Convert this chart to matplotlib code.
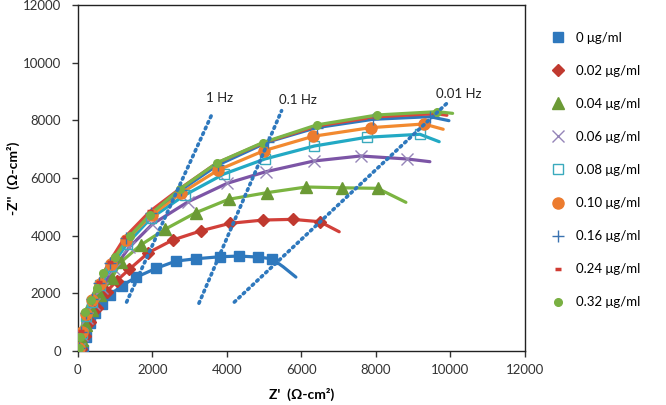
import matplotlib
matplotlib.use('Agg')
import matplotlib.pyplot as plt

plt.rcParams['font.family'] = ['Lato', 'DejaVu Sans']

# concentrations of the inhibitor
labels = ['0 μg/ml', '0.02 μg/ml', '0.04 μg/ml', '0.06 μg/ml', '0.08 μg/ml',
          '0.10 μg/ml', '0.16 μg/ml', '0.24 μg/ml', '0.32 μg/ml']

# measured points, Z' and -Z'' (ohm cm2), one list per concentration
z_real = [
    [126, 215, 322, 456, 636, 859, 1173, 1557, 2094, 2631, 3168, 3813, 4331, 4833, 5209],
    [80, 188, 322, 510, 771, 1039, 1377, 1888, 2543, 3311, 4081, 4975, 5765, 6498],
    [54, 107, 215, 376, 591, 905, 1155, 1684, 2336, 3163, 4046, 5067, 6133, 7102, 8047],
    [40, 120, 250, 420, 640, 960, 1380, 2000, 2961, 4009, 5047, 6337, 7590, 8842],
    [40, 110, 230, 390, 600, 900, 1320, 1950, 2873, 3920, 5021, 6350, 7752, 9183],
    [30, 100, 220, 380, 580, 880, 1300, 1979, 2766, 3767, 4994, 6318, 7859, 9290],
    [30, 95, 210, 370, 570, 860, 1280, 1950, 2760, 3759, 5101, 6408, 7929, 9451],
    [25, 90, 200, 360, 560, 850, 1270, 1940, 2750, 3730, 4980, 6410, 8000, 9600],
    [20, 60, 190, 340, 500, 680, 990, 1400, 1930, 2739, 3740, 4959, 6409, 8036, 9647],
]
z_imag = [
    [35, 496, 960, 1307, 1620, 1942, 2265, 2556, 2868, 3121, 3201, 3271, 3295, 3260, 3201],
    [70, 520, 1006, 1490, 2057, 2438, 2833, 3409, 3849, 4172, 4429, 4543, 4567, 4484],
    [35, 381, 902, 1422, 1942, 2521, 3087, 3676, 4220, 4796, 5261, 5490, 5688, 5660, 5642],
    [60, 560, 1150, 1650, 2200, 2850, 3600, 4400, 5178, 5816, 6218, 6589, 6763, 6659],
    [80, 620, 1230, 1720, 2280, 2950, 3720, 4600, 5410, 6138, 6659, 7109, 7411, 7515],
    [100, 650, 1280, 1760, 2330, 3020, 3850, 4716, 5469, 6277, 6946, 7446, 7744, 7872],
    [110, 680, 1320, 1790, 2370, 3070, 3920, 4800, 5580, 6450, 7248, 7744, 8035, 8125],
    [115, 700, 1340, 1800, 2400, 3100, 3960, 4850, 5640, 6520, 7220, 7800, 8120, 8230],
    [100, 500, 1360, 1770, 2200, 2700, 3270, 3990, 4720, 5618, 6530, 7224, 7838, 8184, 8299],
]

# where each fitted curve runs on past the last measured point
fit_tail_real = [[5512, 5853], [7016], [8807], [9451], [9701], [9808], [9962], [9908], [10061]]
fit_tail_imag = [[2923, 2566], [4137], [5157], [6565], [7258], [7689], [7987], [8174], [8240]]

# iso-frequency guide lines
freq_labels = ['1 Hz', '0.1 Hz', '0.01 Hz']
freq_real = [[1307, 3589], [3250, 5469], [4200, 9926]]
freq_imag = [[1700, 8184], [1660, 8334], [1700, 8611]]
freq_label_pos = [[3813, 8763], [5916, 8705], [10238, 8913]]

line_colors = ['#2e78bd', '#d2403a', '#7bb441', '#7c55a6', '#22a9c4',
               '#f28a30', '#2e78bd', '#d9463c', '#7bb648']
marker_styles = [
    dict(marker='s', ms=7.5, mfc='#2e78bd', mec='#2e78bd'),
    dict(marker='D', ms=6, mfc='#c0392f', mec='#c0392f'),
    dict(marker='^', ms=8.5, mfc='#6b9a35', mec='#6b9a35'),
    dict(marker='x', ms=8, mfc='none', mec='#9585b8', mew=1),
    dict(marker='s', ms=7, mfc='none', mec='#3aaabd', mew=1),
    dict(marker='o', ms=8, mfc='#ec7b2e', mec='#ec7b2e'),
    dict(marker='+', ms=8, mfc='none', mec='#3a72b0', mew=1),
    dict(marker='_', ms=5, mfc='none', mec='#d03b32', mew=2.5),
    dict(marker='o', ms=5.5, mfc='#79b042', mec='#79b042'),
]

fig = plt.figure(figsize=(6.66, 4.05), dpi=100)
ax = fig.add_axes([0.117, 0.133, 0.671, 0.855])

for i in range(len(labels)):
    ax.plot(z_real[i] + fit_tail_real[i], z_imag[i] + fit_tail_imag[i],
            color=line_colors[i], lw=2.3, zorder=2, solid_capstyle='round')
for i in range(len(labels)):
    ax.plot(z_real[i], z_imag[i], ls='none', label=labels[i], zorder=3, **marker_styles[i])

for i in range(len(freq_labels)):
    ax.plot(freq_real[i], freq_imag[i], color='#2e78bd', lw=2.6, ls=(0, (0.5, 1.2)),
            dash_capstyle='round', zorder=4)
    ax.text(freq_label_pos[i][0], freq_label_pos[i][1], freq_labels[i],
            ha='center', va='center', fontsize=9.5, color='#222222')

ax.set_xlim(0, 12000)
ax.set_ylim(0, 12000)
ax.set_xticks(range(0, 12001, 2000))
ax.set_yticks(range(0, 12001, 2000))
ax.tick_params(labelsize=9.5, length=4, width=1, colors='#333333', direction='out')
ax.tick_params(axis='y', pad=8)
ax.tick_params(axis='x', pad=5)
for s in ax.spines.values():
    s.set_color('#222222')
    s.set_linewidth(1)

ax.set_xlabel("Z'  (Ω-cm²)", fontsize=10, fontweight='bold', labelpad=9)
ax.set_ylabel("-Z''  (Ω-cm²)", fontsize=10, fontweight='bold', labelpad=2)

fig.legend(loc='upper left', bbox_to_anchor=(0.8195, 0.935), frameon=False,
           fontsize=9.5, handlelength=1.0, handletextpad=0.9, labelspacing=1.6,
           borderaxespad=0)

fig.savefig('out.png', dpi=100)
